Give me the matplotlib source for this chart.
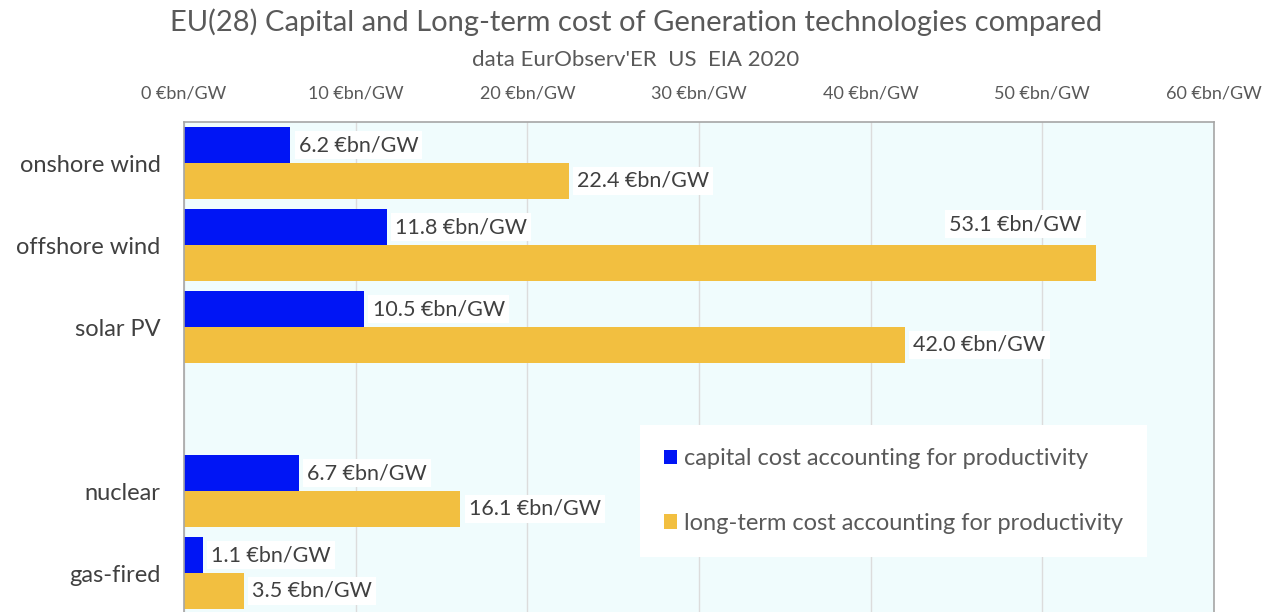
import numpy as np
import matplotlib.pyplot as plt
import matplotlib as mpl

mpl.rcParams.update({"font.family": ["Lato", "DejaVu Sans"], "font.size": 12})

# data
categories = ["onshore wind", "offshore wind", "solar PV", "", "nuclear", "gas-fired"]
capital = [6.2, 11.8, 10.5, np.nan, 6.7, 1.1]
longterm = [22.4, 53.1, 42.0, np.nan, 16.1, 3.5]
ticks = [0, 10, 20, 30, 40, 50, 60]

BLUE = "#0015f5"
GOLD = "#f2bf40"
BG = "#f0fcfd"
TXT = "#595959"
LBL = "#404040"

fig = plt.figure(figsize=(12.72, 6.12), dpi=100)
ax = fig.add_axes([184 / 1272, -2 / 612, 1030 / 1272, 492 / 612])
ax.set_facecolor(BG)

y = np.arange(len(categories))
h = 0.435
ax.barh(y - h / 2, capital, height=h, color=BLUE, zorder=2,
        label="capital cost accounting for productivity")
ax.barh(y + h / 2, longterm, height=h, color=GOLD, zorder=2,
        label="long-term cost accounting for productivity")

box = dict(facecolor="white", edgecolor="none", pad=3)
for yi, v in zip(y, capital):
    if np.isnan(v):
        continue
    ax.annotate(f"{v:.1f} €bn/GW", (v, yi - h / 2), xytext=(6, 0),
                textcoords="offset points", va="center", ha="left",
                fontsize=15.5, color=LBL, bbox=box, zorder=3)
for yi, v in zip(y, longterm):
    if np.isnan(v):
        continue
    if v > 50:
        # no room on the right: label sits above the bar end
        ax.annotate(f"{v:.1f} €bn/GW", (v, yi - h / 2), xytext=(-10, 2),
                    textcoords="offset points", va="center", ha="right",
                    fontsize=15.5, color=LBL, bbox=box, zorder=3)
    else:
        ax.annotate(f"{v:.1f} €bn/GW", (v, yi + h / 2), xytext=(6, 0),
                    textcoords="offset points", va="center", ha="left",
                    fontsize=15.5, color=LBL, bbox=box, zorder=3)

ax.set_xlim(0, 60)
ax.set_ylim(len(categories) - 0.5, -0.5)
ax.set_yticks(y)
ax.set_yticklabels(categories, fontsize=17, color=LBL)
ax.xaxis.tick_top()
ax.set_xticks(ticks)
ax.set_xticklabels([f"{t} €bn/GW" for t in ticks], fontsize=13, color=TXT)
ax.tick_params(axis="x", length=0, pad=15)
ax.tick_params(axis="y", length=0, pad=17)
ax.grid(axis="x", color="#dcdcdc", lw=1, zorder=0)
ax.set_axisbelow(True)
for s in ax.spines.values():
    s.set_color("#a6a6a6")
    s.set_linewidth(1.2)

leg = ax.legend(loc="upper left", bbox_to_anchor=(0.443, 0.385), fontsize=17,
                frameon=True, fancybox=False, framealpha=1, edgecolor="none",
                handlelength=0.55, handleheight=0.55, handletextpad=0.3,
                labelspacing=1.85, borderpad=1.0, borderaxespad=0)
for t in leg.get_texts():
    t.set_color(TXT)

fig.text(0.5, 1 - 22 / 612, "EU(28) Capital and Long-term cost of Generation technologies compared",
         ha="center", va="center", fontsize=21, color=TXT)
fig.text(0.5, 1 - 60 / 612, "data EurObserv'ER  US  EIA 2020",
         ha="center", va="center", fontsize=16, color=TXT)

fig.savefig("out.png", dpi=100)
